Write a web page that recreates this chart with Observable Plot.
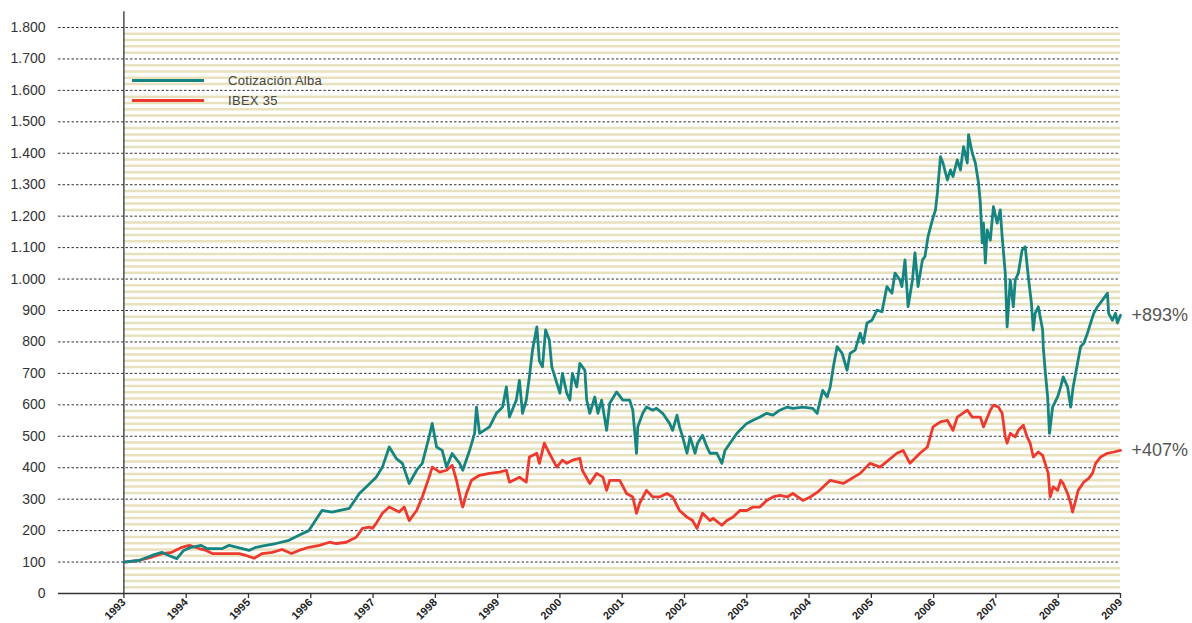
<!DOCTYPE html>
<html><head><meta charset="utf-8">
<script src="https://cdn.jsdelivr.net/npm/d3@7"></script>
<script src="https://cdn.jsdelivr.net/npm/@observablehq/plot@0.6"></script>
<style>
body{margin:0;background:#fff;font-family:"Liberation Sans",Arial,sans-serif;}
#wrap{position:relative;width:1192px;height:623px;}
.legend{position:absolute;left:132px;top:70px;font-size:13px;color:#444;letter-spacing:0.3px;}
.legend .row{display:flex;align-items:center;height:20px;}
.legend .sw{width:72px;height:3px;margin-right:24px;}
</style></head><body><div id="wrap"></div>
<script>
const seriesNames = ["Cotización Alba", "IBEX 35"];
const endLabels = ["+893%", "+407%"];
const yearTicks = [1993,1994,1995,1996,1997,1998,1999,2000,2001,2002,2003,2004,2005,2006,2007,2008,2009];
const valueTicks = [0,100,200,300,400,500,600,700,800,900,1000,1100,1200,1300,1400,1500,1600,1700,1800];

const albaYears = [1993.00,1993.24,1993.45,1993.61,1993.72,1993.85,1993.96,1994.08,1994.24,1994.33,1994.58,1994.69,1994.90,1995.01,1995.12,1995.28,1995.44,1995.65,1995.81,1995.97,1996.18,1996.34,1996.62,1996.78,1996.89,1997.05,1997.15,1997.26,1997.37,1997.47,1997.58,1997.70,1997.79,1997.90,1997.95,1998.02,1998.11,1998.18,1998.27,1998.39,1998.44,1998.55,1998.63,1998.66,1998.71,1998.87,1998.98,1999.08,1999.14,1999.19,1999.30,1999.35,1999.40,1999.46,1999.51,1999.56,1999.63,1999.67,1999.72,1999.77,1999.83,1999.87,1999.95,2000.00,2000.04,2000.11,2000.16,2000.20,2000.27,2000.32,2000.40,2000.43,2000.48,2000.56,2000.61,2000.67,2000.75,2000.80,2000.91,2001.01,2001.12,2001.17,2001.23,2001.25,2001.33,2001.39,2001.49,2001.55,2001.65,2001.76,2001.81,2001.88,2001.92,2001.97,2002.04,2002.09,2002.17,2002.21,2002.29,2002.36,2002.41,2002.52,2002.60,2002.65,2002.73,2002.84,2002.89,2003.00,2003.10,2003.21,2003.32,2003.42,2003.53,2003.65,2003.74,2003.90,2004.06,2004.13,2004.18,2004.22,2004.29,2004.34,2004.39,2004.45,2004.53,2004.61,2004.66,2004.74,2004.82,2004.87,2004.93,2005.01,2005.09,2005.17,2005.25,2005.33,2005.38,2005.46,2005.49,2005.54,2005.59,2005.66,2005.70,2005.75,2005.82,2005.86,2005.91,2005.98,2006.03,2006.06,2006.11,2006.15,2006.22,2006.27,2006.31,2006.38,2006.43,2006.48,2006.54,2006.56,2006.62,2006.67,2006.72,2006.75,2006.78,2006.80,2006.83,2006.86,2006.91,2006.96,2007.02,2007.07,2007.10,2007.15,2007.18,2007.23,2007.28,2007.31,2007.36,2007.42,2007.47,2007.52,2007.57,2007.60,2007.63,2007.68,2007.75,2007.76,2007.79,2007.83,2007.86,2007.91,2007.99,2008.04,2008.08,2008.15,2008.20,2008.24,2008.31,2008.36,2008.41,2008.47,2008.52,2008.57,2008.63,2008.71,2008.79,2008.81,2008.87,2008.92,2008.95,2009.00];
const albaValues = [100,105,121,131,121,111,137,147,153,143,143,153,143,137,147,153,159,169,185,200,264,259,271,318,339,370,402,466,430,414,350,392,414,498,541,466,455,402,445,414,392,455,509,593,509,530,573,593,657,561,615,678,573,615,689,774,848,740,721,838,806,721,669,637,700,637,615,700,657,732,710,615,573,625,573,615,519,605,641,615,615,583,446,530,573,593,583,589,573,541,519,567,530,498,446,498,446,478,503,466,446,446,414,455,478,509,519,541,551,561,573,567,583,593,589,593,589,573,615,646,625,657,721,785,764,710,764,774,828,796,860,869,901,896,976,955,1019,997,976,1061,912,997,1083,976,1061,1071,1135,1188,1220,1274,1389,1369,1315,1347,1326,1379,1347,1421,1369,1459,1401,1369,1306,1242,1115,1178,1051,1156,1124,1230,1178,1220,1135,1019,848,997,912,997,1019,1092,1103,1007,923,838,891,912,838,785,710,625,509,593,625,657,689,657,593,657,732,785,796,828,860,891,912,933,955,891,869,891,860,885];

const ibexYears = [1993.00,1993.24,1993.45,1993.61,1993.77,1993.93,1994.05,1994.21,1994.32,1994.42,1994.58,1994.74,1994.85,1994.96,1995.09,1995.22,1995.38,1995.54,1995.69,1995.81,1995.97,1996.14,1996.30,1996.41,1996.57,1996.73,1996.83,1996.94,1996.99,1997.05,1997.15,1997.26,1997.42,1997.50,1997.58,1997.70,1997.79,1997.90,1997.95,1998.07,1998.18,1998.27,1998.34,1998.42,1998.44,1998.50,1998.58,1998.71,1998.87,1999.03,1999.14,1999.19,1999.35,1999.46,1999.51,1999.63,1999.67,1999.75,1999.83,1999.95,2000.04,2000.11,2000.20,2000.32,2000.36,2000.48,2000.59,2000.69,2000.75,2000.80,2000.96,2001.07,2001.17,2001.23,2001.28,2001.39,2001.49,2001.60,2001.72,2001.81,2001.92,2002.04,2002.13,2002.20,2002.29,2002.41,2002.46,2002.60,2002.68,2002.78,2002.89,2003.00,2003.10,2003.21,2003.32,2003.42,2003.53,2003.65,2003.74,2003.90,2004.02,2004.14,2004.34,2004.55,2004.82,2004.98,2005.14,2005.41,2005.51,2005.62,2005.78,2005.90,2005.99,2006.11,2006.22,2006.31,2006.38,2006.54,2006.62,2006.75,2006.80,2006.91,2006.96,2007.04,2007.10,2007.15,2007.18,2007.23,2007.31,2007.36,2007.44,2007.50,2007.55,2007.60,2007.68,2007.75,2007.79,2007.84,2007.87,2007.92,2007.99,2008.04,2008.08,2008.15,2008.20,2008.23,2008.28,2008.32,2008.41,2008.49,2008.55,2008.60,2008.68,2008.79,2008.89,2009.00];
const ibexValues = [100,105,116,127,131,147,153,143,137,127,127,127,127,121,112,127,131,140,127,137,147,153,163,159,163,179,207,211,207,223,255,275,259,275,232,264,307,370,402,386,392,408,360,287,275,318,360,376,382,386,392,354,370,354,434,446,414,478,446,402,424,414,424,430,392,350,382,370,328,360,360,318,307,255,287,328,307,307,318,307,264,243,232,207,255,232,239,217,232,243,264,264,275,275,296,307,312,307,318,296,307,323,360,350,382,414,402,446,455,414,446,466,530,546,551,519,561,583,561,561,530,583,599,593,573,498,478,509,498,519,535,498,478,434,450,439,414,382,307,339,328,360,350,318,287,259,296,328,354,366,382,414,434,446,450,455];

const alba = albaYears.map((t, i) => ({t, v: albaValues[i]}));
const ibex = ibexYears.map((t, i) => ({t, v: ibexValues[i]}));
const stripes = d3.range(20, 1800, 20).filter(v => v % 100 !== 0);
const fmt = d3.formatLocale({decimal: ",", thousands: ".", grouping: [3], currency: ["", "€"]}).format(",");

const TEAL = "#168481", RED = "#ee3a2e";
const xStart = 1991.95;

const chart = Plot.plot({
  width: 1192, height: 623,
  marginLeft: 58, marginRight: 72, marginTop: 27, marginBottom: 30,
  x: {domain: [xStart, 2009]},
  y: {domain: [0, 1800]},
  style: {fontFamily: "'Liberation Sans', Arial, sans-serif", background: "white", color: "#333"},
  marks: [
    Plot.ruleY(stripes, {x1: 1993, x2: 2009, stroke: "#e7e1bd", strokeWidth: 2.5}),
    Plot.ruleY(valueTicks.filter(v => v > 0), {x1: xStart, x2: 2009, stroke: "#333", strokeDasharray: "2.5,2", strokeWidth: 1}),
    Plot.ruleY([0], {x1: xStart, x2: 2009, stroke: "#333", strokeWidth: 1.3}),
    Plot.ruleX([1993], {y1: 0, y2: 1850, stroke: "#333", strokeWidth: 1.3}),
    Plot.axisX(yearTicks, {anchor: "bottom", label: null, tickSize: 5, tickPadding: 2, tickRotate: -45, tickFormat: d => String(d), fontWeight: "bold", fontSize: 11, fill: "#222", stroke: "#333", strokeWidth: 1.3}),
    Plot.axisY(valueTicks, {anchor: "left", label: null, tickSize: 0, tickPadding: 13, tickFormat: fmt, fontSize: 14, fill: "#333"}),
    Plot.line(ibex, {x: "t", y: "v", stroke: RED, strokeWidth: 2.8, strokeLinejoin: "round"}),
    Plot.line(alba, {x: "t", y: "v", stroke: TEAL, strokeWidth: 2.8, strokeLinejoin: "round"}),
    Plot.text([alba[alba.length - 1]], {x: "t", y: "v", text: () => endLabels[0], dx: 11, textAnchor: "start", fontSize: 18, fill: "#555"}),
    Plot.text([ibex[ibex.length - 1]], {x: "t", y: "v", text: () => endLabels[1], dx: 11, textAnchor: "start", fontSize: 18, fill: "#555"})
  ]
});

const wrap = document.getElementById("wrap");
wrap.appendChild(chart);
const legend = document.createElement("div");
legend.className = "legend";
legend.innerHTML = seriesNames.map((n, i) =>
  `<div class="row"><span class="sw" style="background:${i === 0 ? TEAL : RED}"></span><span>${n}</span></div>`).join("");
wrap.appendChild(legend);
</script>
</body></html>
